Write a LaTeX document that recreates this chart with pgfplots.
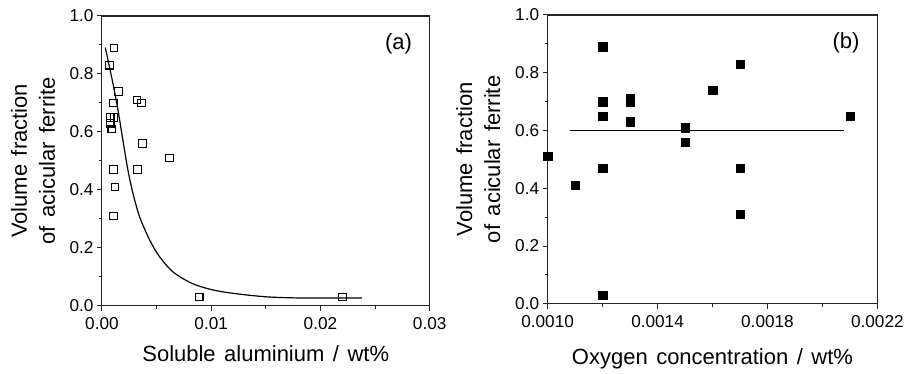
\documentclass[border=0pt]{standalone}
\usepackage{pgfplots}
\pgfplotsset{compat=1.18}
\usepackage{fontspec}
\setmainfont[WordSpace={1.4,0.3,0.1}]{Liberation Sans}
\begin{document}
\begin{tikzpicture}
\pgfplotsset{
  every axis/.append style={
    scale only axis,
    axis line style={line width=1.1pt, black!85},
    tick align=outside,
    xtick pos=left, ytick pos=left,
    major tick length=5pt, minor tick length=3pt,
    every tick/.style={line width=1pt, black!85},
    tick label style={font=\fontsize{17.2}{18}\selectfont},
    xticklabel style={yshift=-3pt},
    /pgf/number format/assume math mode=true,
    scaled x ticks=false, scaled y ticks=false,
    ymin=0, ymax=1,
    ytick={0,0.2,0.4,0.6,0.8,1.0},
    yticklabels={0.0,0.2,0.4,0.6,0.8,1.0},
    minor y tick num=1,
    minor x tick num=1,
    ylabel={Volume fraction\\of acicular ferrite},
    clip=false,
  }
}
% Panel (a)
\begin{axis}[
  at={(102pt,68pt)}, anchor=south west,
  width=328pt, height=290pt,
  xmin=0, xmax=0.03,
  xtick={0,0.01,0.02,0.03},
  xticklabels={0.00,0.01,0.02,0.03},
  xlabel={Soluble aluminium / wt\%},
  xlabel style={at={(axis description cs:0.5,-0.165)}, anchor=center, font=\fontsize{22}{28}\selectfont},
  ylabel style={at={(axis description cs:-0.21,0.5)}, rotate=0, anchor=center, align=center, font=\fontsize{22}{28}\selectfont},
]
\addplot[only marks, mark=square, mark size=3.8pt, mark options={line width=1.1pt, black}] coordinates {
(0.0011,0.89) (0.0007,0.83) (0.0015,0.74) (0.0032,0.71) (0.0036,0.70)
(0.00104,0.70) (0.00076,0.65) (0.0011,0.65) (0.00076,0.63) (0.0009,0.61)
(0.0037,0.56) (0.0062,0.51) (0.00107,0.47) (0.00327,0.47) (0.0012,0.41)
(0.00107,0.31) (0.0089,0.03) (0.0220,0.03)
};
\addplot[smooth, line width=1.2pt, black] coordinates {
(0.00031,0.891) (0.00101,0.767) (0.00147,0.675) (0.00192,0.571) (0.00238,0.468)
(0.00284,0.388) (0.00345,0.307) (0.00437,0.227) (0.00528,0.169) (0.0065,0.117)
(0.0082,0.078) (0.0100,0.056) (0.012,0.043) (0.015,0.031) (0.018,0.027)
(0.021,0.027) (0.0238,0.027)
};
\node[font=\fontsize{22}{24}\selectfont] at (axis description cs:0.905,0.905) {(a)};
\end{axis}
% Panel (b)
\begin{axis}[
  at={(548pt,70pt)}, anchor=south west,
  width=330pt, height=289pt,
  xmin=0.0010, xmax=0.0022,
  xtick={0.0010,0.0014,0.0018,0.0022},
  xticklabels={0.0010,0.0014,0.0018,0.0022},
  xlabel={Oxygen concentration / wt\%},
  xlabel style={at={(axis description cs:0.5,-0.19)}, anchor=center, font=\fontsize{22}{28}\selectfont},
  ylabel style={at={(axis description cs:-0.21,0.5)}, rotate=0, anchor=center, align=center, font=\fontsize{22}{28}\selectfont},
]
\addplot[only marks, mark=square*, mark size=4.2pt, mark options={black, fill=black}] coordinates {
(0.0010,0.51) (0.0011,0.41) (0.0012,0.89) (0.0012,0.70) (0.0012,0.65)
(0.0012,0.47) (0.0012,0.03) (0.0013,0.71) (0.0013,0.70) (0.0013,0.63)
(0.0015,0.61) (0.0015,0.56) (0.0016,0.74) (0.0017,0.83) (0.0017,0.47)
(0.0017,0.31) (0.0021,0.65)
};
\addplot[line width=1.2pt, black] coordinates {(0.00108,0.60) (0.00208,0.60)};
\node[font=\fontsize{22}{24}\selectfont] at (axis description cs:0.905,0.905) {(b)};
\end{axis}
\path (0pt,0pt) rectangle (907pt,374pt);
\end{tikzpicture}
\end{document}
